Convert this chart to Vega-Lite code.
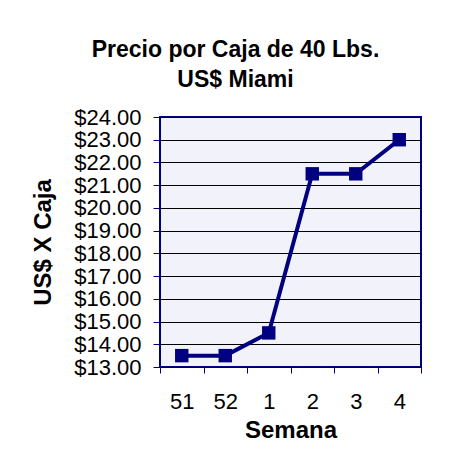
{
  "$schema": "https://vega.github.io/schema/vega-lite/v6.json",
  "autosize": "none",
  "width": 261,
  "height": 250,
  "padding": {"left": 160, "top": 117, "right": 33, "bottom": 92},
  "background": "white",
  "config": {
    "font": "Liberation Sans",
    "view": {"stroke": "#000080", "strokeWidth": 2, "fill": "#f2f2fa"}
  },
  "title": {
    "text": ["Precio por Caja de 40 Lbs.", "US$ Miami"],
    "fontSize": 23,
    "fontWeight": "bold",
    "color": "black",
    "font": "Liberation Sans",
    "lineHeight": 30,
    "anchor": "middle",
    "dx": -55,
    "offset": 14
  },
  "data": {
    "values": [
      {"semana": "51", "precio": 13.5},
      {"semana": "52", "precio": 13.5},
      {"semana": "1", "precio": 14.5},
      {"semana": "2", "precio": 21.5},
      {"semana": "3", "precio": 21.5},
      {"semana": "4", "precio": 23.0}
    ]
  },
  "encoding": {
    "x": {
      "field": "semana",
      "type": "ordinal",
      "sort": null,
      "scale": {"type": "band", "paddingInner": 0, "paddingOuter": 0},
      "axis": {
        "title": "Semana",
        "titleFontSize": 24,
        "titleFontWeight": "bold",
        "titleColor": "black",
        "titlePadding": 6,
        "labelAngle": 0,
        "labelFontSize": 22,
        "labelColor": "black",
        "labelPadding": 18,
        "tickBand": "extent",
        "tickColor": "#000080",
        "tickSize": 6,
        "domain": false,
        "grid": false
      }
    },
    "y": {
      "field": "precio",
      "type": "quantitative",
      "scale": {"domain": [13, 24], "nice": false, "zero": false},
      "axis": {
        "title": "US$ X Caja",
        "titleFontSize": 24,
        "titleFontWeight": "bold",
        "titleColor": "black",
        "titlePadding": 18,
        "format": "$.2f",
        "values": [13, 14, 15, 16, 17, 18, 19, 20, 21, 22, 23, 24],
        "labelFontSize": 22,
        "labelColor": "black",
        "labelPadding": 12,
        "labelOverlap": false,
        "labelBound": false,
        "labelFlush": false,
        "tickColor": "#000080",
        "tickSize": 7,
        "domain": false,
        "grid": true,
        "gridColor": "black",
        "gridOpacity": 1,
        "gridWidth": 1
      }
    }
  },
  "layer": [
    {"mark": {"type": "line", "color": "#000080", "strokeWidth": 4}},
    {"mark": {"type": "point", "shape": "square", "filled": true, "color": "#000080", "size": 180, "opacity": 1}}
  ]
}
